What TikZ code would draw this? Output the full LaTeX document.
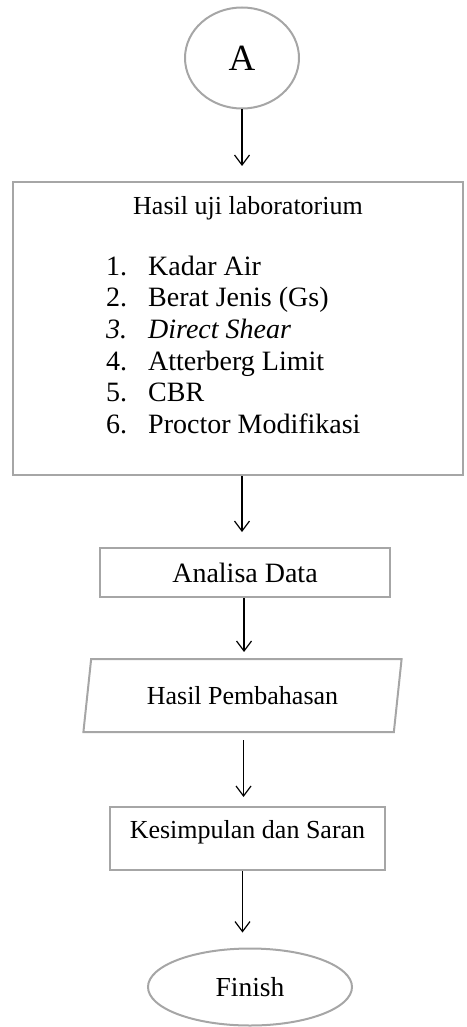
\documentclass[tikz,border=0pt]{standalone}
\usepackage{fontspec}
\setmainfont{Liberation Serif}
\usetikzlibrary{shapes.geometric,arrows.meta}

\definecolor{boxgray}{HTML}{A6A6A6}

\tikzstyle{terminal} = [ellipse,draw=boxgray,line width=2pt,inner sep=0pt]
\tikzstyle{process} = [rectangle,draw=boxgray,line width=2pt,inner sep=0pt]
\tikzstyle{io} = [trapezium,trapezium left angle=75,trapezium right angle=105,trapezium stretches=true,draw=boxgray,line width=2pt,inner sep=0pt]
\tikzstyle{label} = [font=\fontsize{26}{31}\selectfont]
\tikzstyle{listtext} = [anchor=base west,inner sep=0pt,font=\fontsize{28}{33}\selectfont]
\tikzstyle{arrowdecorate} = [-{Straight Barb[length=10pt,width=15pt]},line width=1.2pt,black]

\begin{document}
\begin{tikzpicture}[x=1pt,y=-1pt]
      \useasboundingbox (0,0) rectangle (466,1027);
      %nodes
      \node[terminal, minimum width=114pt, minimum height=101pt,
        font=\fontsize{37}{42}\selectfont] (start) at (242,58) {A};
      \node[process, minimum width=450pt, minimum height=293pt] (lab) at (238,328.5) {};
      \node[anchor=base, inner sep=0pt, font=\fontsize{26}{31}\selectfont] (title) at (248,214) {Hasil uji laboratorium};
      \foreach \num/\itemtext/\fshape [count=\row] in {
        1/Kadar Air/n,
        2/Berat Jenis (Gs)/n,
        3/Direct Shear/it,
        4/Atterberg Limit/n,
        5/CBR/n,
        6/Proctor Modifikasi/n}
      {
        \node[listtext] (num\row) at (106,{275+31.7*(\row-1)}) {\fontshape{\fshape}\selectfont\num.};
        \node[listtext] (item\row) at (148,{275+31.7*(\row-1)}) {\fontshape{\fshape}\selectfont\itemtext};
      };
      \node[process, label, font=\fontsize{28}{33}\selectfont, minimum width=290pt, minimum height=49pt] (analisa) at (245,572.5) {Analisa Data};
      \node[io, label, minimum width=319pt, minimum height=73pt] (hasil) at (242.5,695.5) {Hasil Pembahasan};
      \node[process, label, minimum width=275pt, minimum height=63pt,
        text height=19pt, text depth=19pt] (simpulan) at (247.5,838.5) {Kesimpulan dan Saran};
      \node[terminal, label, font=\fontsize{27.5}{32}\selectfont, minimum width=204pt, minimum height=77pt] (finish) at (250,987) {Finish};
      %edges
      \foreach \startnode/\endnode/\gap/\lead/\xoff in {
        start/lab/15/0/0, lab/analisa/15/0/4, analisa/hasil/6/0/-1,
        hasil/simpulan/9/7/1, simpulan/finish/15/0/-5}
      {
        \draw[arrowdecorate, shorten >=\gap pt, shorten <=\lead pt]
          ([xshift=\xoff pt]\startnode.south) -- ([xshift=\xoff pt]\startnode.south |- \endnode.north);
      };
\end{tikzpicture}
\end{document}
